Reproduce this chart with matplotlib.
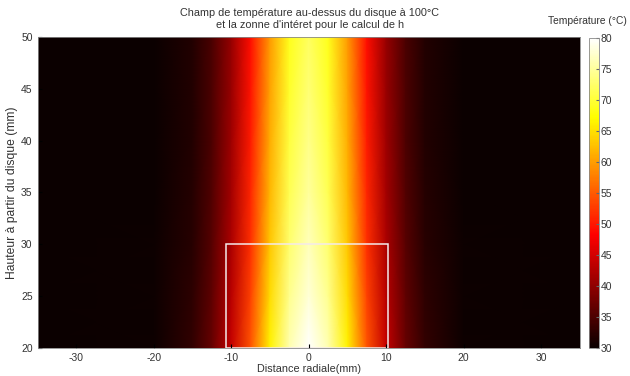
import numpy as np
import matplotlib
matplotlib.use("Agg")
import matplotlib.pyplot as plt

plt.rcParams['font.family'] = ['Liberation Sans', 'DejaVu Sans']
plt.rcParams['axes.unicode_minus'] = False

# Radial positions (mm) and heights (mm) at which temperatures were read
x_mm = [-35, -20, -15, -12.5, -10, -7.5, -5, -2.5, 0, 2.5, 5, 7.5, 10, 12.5, 15, 20, 35]
y_mm = [20, 25, 30, 35, 40, 45, 50]

# Temperature (°C) rows, one per height
T_20 = [30, 30.3, 33.0, 37.0, 44.0, 54.5, 66.5, 76.0, 80.0, 76.0, 66.5, 54.5, 44.0, 37.0, 33.0, 30.3, 30]
T_25 = [30, 30.2, 32.6, 36.3, 43.0, 53.1, 64.7, 74.3, 78.0, 74.3, 64.7, 53.1, 43.0, 36.3, 32.6, 30.2, 30]
T_30 = [30, 30.2, 32.3, 35.7, 42.1, 51.8, 63.2, 72.7, 76.5, 72.7, 63.2, 51.8, 42.1, 35.7, 32.3, 30.2, 30]
T_35 = [30, 30.1, 32.1, 35.3, 41.5, 50.9, 62.0, 71.3, 75.0, 71.3, 62.0, 50.9, 41.5, 35.3, 32.1, 30.1, 30]
T_40 = [30, 30.1, 31.9, 35.0, 41.0, 50.2, 61.1, 70.3, 74.0, 70.3, 61.1, 50.2, 41.0, 35.0, 31.9, 30.1, 30]
T_45 = [30, 30.1, 31.9, 34.9, 40.7, 49.7, 60.4, 69.4, 73.0, 69.4, 60.4, 49.7, 40.7, 34.9, 31.9, 30.1, 30]
T_50 = [30, 30.1, 31.8, 34.8, 40.5, 49.2, 59.7, 68.5, 72.0, 68.5, 59.7, 49.2, 40.5, 34.8, 31.8, 30.1, 30]

# Zone of interest (mm)
zone_x = [-10.7, 10.2]
zone_y = [20, 30]

cbar_ticks = [30, 35, 40, 45, 50, 55, 60, 65, 70, 75, 80]
x_ticks = [-30, -20, -10, 0, 10, 20, 30]
y_ticks = [20, 25, 30, 35, 40, 45, 50]

txt = '#333333'
W, H = 630, 376
fig = plt.figure(figsize=(W / 100, H / 100), dpi=100)
ax = fig.add_axes([37.5 / W, 1 - 348 / H, (580 - 37.5) / W, (348 - 37) / H])
cax = fig.add_axes([589 / W, 1 - 348 / H, 10 / W, (348 - 38) / H])

Z = np.array([T_20, T_25, T_30, T_35, T_40, T_45, T_50])
X, Y = np.meshgrid(x_mm, y_mm)
mesh = ax.pcolormesh(X, Y, Z, cmap='hot', vmin=30, vmax=80, shading='gouraud',
                     rasterized=True)

ax.add_patch(plt.Rectangle((zone_x[0], zone_y[0]), zone_x[1] - zone_x[0],
                           zone_y[1] - zone_y[0], fill=False,
                           edgecolor='#f4eaea', linewidth=1.1))

ax.set_xlim(-35, 35)
ax.set_ylim(20, 50)
ax.set_xticks(x_ticks)
ax.set_yticks(y_ticks)
ax.tick_params(direction='in', length=3, labelsize=7.5, colors='#000000')
for lab in ax.get_xticklabels() + ax.get_yticklabels():
    lab.set_color(txt)
for s in ax.spines.values():
    s.set_color('#888888')
    s.set_linewidth(0.6)

ax.set_xlabel('Distance radiale(mm)', fontsize=7.8, color=txt, labelpad=1)
ax.set_ylabel('Hauteur à partir du disque (mm)', fontsize=8.7, color=txt, labelpad=2)

fig.text(0.492, 1 - 13 / H, 'Champ de température au-dessus du disque à 100°C',
         ha='center', va='center', fontsize=7.8, color=txt)
fig.text(0.492, 1 - 25 / H, "et la zonne d'intéret pour le calcul de h",
         ha='center', va='center', fontsize=7.8, color=txt)

cb = fig.colorbar(mesh, cax=cax, ticks=cbar_ticks)
cb.outline.set_edgecolor('#888888')
cb.outline.set_linewidth(0.6)
cax.tick_params(direction='in', length=2, labelsize=7.5, pad=1, colors='#666666')
for lab in cax.get_yticklabels():
    lab.set_color(txt)
fig.text(627 / W, 1 - 21 / H, 'Température (°C)', ha='right', va='center',
         fontsize=7.4, color=txt)

fig.savefig('out.png', dpi=100)
